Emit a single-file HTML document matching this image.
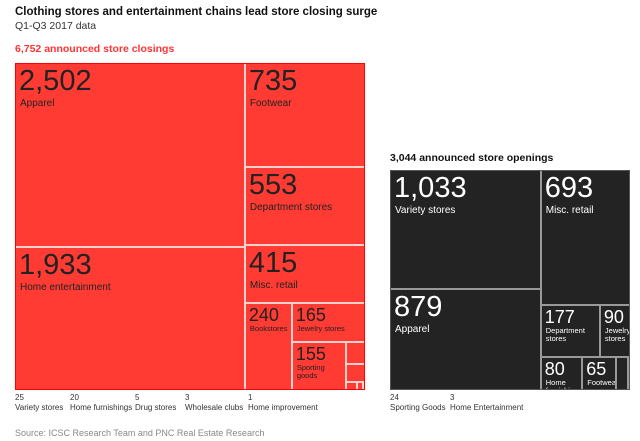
<!DOCTYPE html>
<html><head><meta charset="utf-8">
<style>
body{margin:0;background:#fff;font-family:"Liberation Sans",sans-serif;}
#root{position:relative;width:640px;height:441px;overflow:hidden;}
.t{position:absolute;white-space:nowrap;}
.tile{position:absolute;box-sizing:border-box;overflow:hidden;}
.num{position:absolute;left:3px;line-height:1;}
.lab{position:absolute;left:4px;line-height:1.15;white-space:normal;}
</style></head><body>
<div id="root">
<div class="t" style="left:15px;top:6px;font-size:11.5px;font-weight:bold;color:#111;">Clothing stores and entertainment chains lead store closing surge</div>
<div class="t" style="left:15px;top:20px;font-size:10.5px;color:#333;">Q1-Q3 2017 data</div>
<div class="t" style="left:15px;top:43px;font-size:10.5px;font-weight:bold;color:#f33;">6,752 announced store closings</div>
<div class="t" style="left:390px;top:152px;font-size:10.5px;font-weight:bold;color:#111;">3,044 announced store openings</div>
<div class="t" style="left:15px;top:428px;font-size:9px;color:#888;">Source: ICSC Research Team and PNC Real Estate Research</div>
</div>
<script>
// Closings data
const closeCats = ["Apparel","Home entertainment","Footwear","Department stores","Misc. retail","Bookstores","Jewelry stores","Sporting goods","Variety stores","Home furnishings","Drug stores","Wholesale clubs","Home improvement"];
const closeVals = [2502,1933,735,553,415,240,165,155,25,20,5,3,1];
const closeLabels = ["2,502","1,933","735","553","415","240","165","155","25","20","5","3","1"];
// Openings data
const openCats = ["Variety stores","Apparel","Misc. retail","Department stores","Jewelry stores","Home furnishings","Footwear","Sporting Goods","Home Entertainment"];
const openVals = [1033,879,693,177,90,80,65,24,3];
const openLabels = ["1,033","879","693","177","90","80","65","24","3"];

const closeTree = {d:'h',c:[{d:'v',c:[0,1]},{d:'v',c:[2,3,4,{d:'h',c:[5,{d:'v',c:[6,{d:'h',c:[7,{d:'v',c:[8,9,{d:'h',c:[10,11,12]}]}]}]}]}]}]};
const openTree = {d:'h',c:[{d:'v',c:[0,1]},{d:'v',c:[2,{d:'h',c:[3,4]},{d:'h',c:[5,6,7,8]}]}]};

const root=document.getElementById('root');
function sum(n,vals){return typeof n==='number'?vals[n]:n.c.reduce((a,k)=>a+sum(k,vals),0);}
function layout(n,vals,x,y,w,h,out){
  if(typeof n==='number'){out.push({i:n,x,y,w,h});return;}
  const tot=sum(n,vals);let off=0;
  n.c.forEach(k=>{const f=sum(k,vals)/tot;
    if(n.d==='h'){layout(k,vals,x+off*w,y,f*w,h,out);}else{layout(k,vals,x,y+off*h,w,f*h,out);}
    off+=f;});
}
function draw(tree,vals,cats,labels,box,bg,border,fg,prefix){
  const out=[];layout(tree,vals,box.x,box.y,box.w,box.h,out);
  out.forEach(r=>{
    const el=document.createElement('div');
    
    
    el.className='tile';
    el.style.cssText=`left:${r.x}px;top:${r.y}px;width:${r.w}px;height:${r.h}px;background:${bg};border:1px solid ${border};color:${fg}`;
    if(r.w>28&&r.h>28){
      const big=r.w>80&&r.h>50;
      const fs=big?29:18, ls=big?10:7.5;
      const n=document.createElement('div');n.className='num';
      
      
      n.style.top=(big?3:2)+'px';n.style.fontSize=fs+'px';n.textContent=labels[r.i];
      const l=document.createElement('div');l.className='lab';
      
      
      l.style.top=(big?34:21)+'px';l.style.fontSize=ls+'px';l.style.width=(r.w-6)+'px';l.textContent=cats[r.i];
      el.appendChild(n);el.appendChild(l);
    }
    root.appendChild(el);
  });
}
draw(closeTree,closeVals,closeCats,closeLabels,{x:15,y:63,w:350,h:327},'#ff3b33','#ffd0cc','#222','closings');
draw(openTree,openVals,openCats,openLabels,{x:390,y:170,w:240,h:220},'#232323','#999','#fff','openings');
[[15,63,350,327,'#f00'],[390,170,240,220,'#555']].forEach(b=>{const f=document.createElement('div');


f.className='tile';f.style.cssText=`left:${b[0]}px;top:${b[1]}px;width:${b[2]}px;height:${b[3]}px;border:1px solid ${b[4]};`;root.appendChild(f);});

const closeNoteIdx=[8,9,10,11,12]; const closeNoteX=[15,70,135,185,248];
const openNoteIdx=[7,8]; const openNoteX=[390,450];
function notes(idx,xs,cats,labels,prefix){idx.forEach((k,j)=>{
  const d=document.createElement('div');d.className='t';
  
  
  d.style.cssText=`left:${xs[j]}px;top:393px;font-size:8px;color:#333;line-height:10px;`;
  d.innerHTML=labels[k]+'<br>'+cats[k];root.appendChild(d);});}
notes(closeNoteIdx,closeNoteX,closeCats,closeLabels,'closings');
notes(openNoteIdx,openNoteX,openCats,openLabels,'openings');
</script>
</body></html>
